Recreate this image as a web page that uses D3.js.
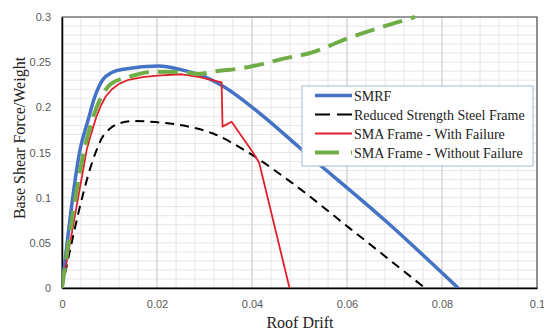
<!DOCTYPE html>
<html>
<head>
<meta charset="utf-8">
<script src="https://cdnjs.cloudflare.com/ajax/libs/d3/7.8.5/d3.min.js"></script>
<style>
body { margin: 0; background: #fff; }
.serif { font-family: 'Liberation Serif', 'DejaVu Serif', serif; }
.tick text { font-family: 'Liberation Sans', Arial, sans-serif; }
</style>
</head>
<body>
<script>
// values: [roof drift, base shear / weight]
const smrf = [[0,0],[0.0038,0.153],[0.0055,0.186],[0.0068,0.21],[0.0085,0.23],[0.0105,0.2385],[0.0133,0.2425],[0.0203,0.2458],[0.0252,0.2415],[0.03,0.234],[0.034,0.223],[0.0424,0.19],[0.0501,0.155],[0.0684,0.073],[0.0834,0]];
const reduced = [[0,0],[0.0073,0.153],[0.0084,0.166],[0.01,0.176],[0.0125,0.183],[0.0154,0.185],[0.02,0.1835],[0.0248,0.1805],[0.0318,0.171],[0.0389,0.151],[0.048,0.118],[0.0606,0.066],[0.0764,0]];
const withFailure = [[0,0],[0.0052,0.153],[0.0062,0.172],[0.0072,0.189],[0.0082,0.202],[0.0092,0.212],[0.0105,0.22],[0.012,0.226],[0.014,0.2305],[0.017,0.2335],[0.02,0.235],[0.0252,0.2366],[0.029,0.2335],[0.0336,0.2275],[0.0338,0.1786],[0.0357,0.184],[0.0402,0.15],[0.0415,0.139],[0.0479,0]];
const withoutFailure = [[0,0],[0.005,0.16],[0.0066,0.19],[0.0083,0.212],[0.0103,0.226],[0.014,0.2335],[0.0196,0.2395],[0.025,0.239],[0.029,0.237],[0.032,0.2396],[0.0375,0.243],[0.0486,0.256],[0.0515,0.259],[0.0602,0.2765],[0.0705,0.294],[0.0743,0.3]];

const xTicks = [0, 0.02, 0.04, 0.06, 0.08, 0.1];
const yTicks = [0, 0.05, 0.1, 0.15, 0.2, 0.25, 0.3];
const seriesNames = ["SMRF", "Reduced Strength Steel Frame", "SMA Frame - With Failure", "SMA Frame - Without Failure"];

const series = [
  {name: seriesNames[0], data: smrf, color: "#4472c4", width: 3.5, dash: null, legendDash: null, curve: d3.curveMonotoneX},
  {name: seriesNames[1], data: reduced, color: "#000", width: 2, dash: "9,6", legendDash: "15,7", curve: d3.curveMonotoneX},
  {name: seriesNames[2], data: withFailure, color: "#e0202a", width: 1.8, dash: null, legendDash: null, curve: d3.curveLinear},
  {name: seriesNames[3], data: withoutFailure, color: "#70ad47", width: 4, dash: "20,9", legendDash: "24,12", curve: d3.curveMonotoneX}
];

const W = 544, H = 332;
const m = {left: 62, right: 7, top: 17, bottom: 44};

const svg = d3.select("body")
        .append("svg")
        .attr("width", W)
        .attr("height", H);

const x = d3.scaleLinear().domain([0, 0.1]).range([m.left, W - m.right]);
const y = d3.scaleLinear().domain([0, 0.3]).range([H - m.bottom, m.top]);

// grid
const minorX = d3.range(0, 0.1001, 0.004);
const minorY = d3.range(0, 0.3001, 0.01);

svg.append("g")
  .selectAll("line")
  .data(minorX)
  .enter()
  .append("line")
  .attr("x1", d => x(d)).attr("x2", d => x(d))
  .attr("y1", y(0)).attr("y2", y(0.3))
  .attr("stroke", "#e6e6e6");

svg.append("g")
  .selectAll("line")
  .data(minorY)
  .enter()
  .append("line")
  .attr("x1", x(0)).attr("x2", x(0.1))
  .attr("y1", d => y(d)).attr("y2", d => y(d))
  .attr("stroke", "#e6e6e6");

svg.append("g")
  .selectAll("line")
  .data(xTicks)
  .enter()
  .append("line")
  .attr("x1", d => x(d)).attr("x2", d => x(d))
  .attr("y1", y(0)).attr("y2", y(0.3))
  .attr("stroke", "#cfcfcf");

// frame
svg.append("rect")
  .attr("x", x(0)).attr("y", y(0.3))
  .attr("width", x(0.1) - x(0)).attr("height", y(0) - y(0.3))
  .attr("fill", "none")
  .attr("stroke", "#404040");

// axes
const fmt = d => String(+d.toFixed(2));
const xAxis = svg.append("g")
  .attr("transform", "translate(0," + y(0) + ")")
  .call(d3.axisBottom(x).tickValues(xTicks).tickSize(0).tickPadding(12).tickFormat(fmt));
const yAxis = svg.append("g")
  .attr("transform", "translate(" + x(0) + ",0)")
  .call(d3.axisLeft(y).tickValues(yTicks).tickSize(0).tickPadding(11).tickFormat(fmt));

[xAxis, yAxis].forEach(a => {
  a.attr("font-family", null);
  a.select(".domain").attr("stroke", "#000").attr("stroke-width", 1.5);
  a.selectAll("text")
    .attr("font-size", 11)
    .attr("fill", "#595959");
});

// curves
svg.append("defs").append("clipPath").attr("id", "clip")
  .append("rect")
  .attr("x", x(0)).attr("y", y(0.3) - 2)
  .attr("width", x(0.1) - x(0)).attr("height", y(0) - y(0.3) + 2);

svg.append("g")
  .attr("clip-path", "url(#clip)")
  .selectAll("path")
  .data(series)
  .enter()
  .append("path")
  .attr("d", d => d3.line().x(p => x(p[0])).y(p => y(p[1])).curve(d.curve)(d.data))
  .attr("fill", "none")
  .attr("stroke", d => d.color)
  .attr("stroke-width", d => d.width)
  .attr("stroke-dasharray", d => d.dash)
  .attr("stroke-linejoin", "round");

// legend
const legend = svg.append("g");
legend.append("rect")
  .attr("x", 302).attr("y", 86)
  .attr("width", 231).attr("height", 80)
  .attr("fill", "#fff")
  .attr("stroke", "#a9bcd0");

const items = legend.selectAll("g.item")
  .data(series)
  .enter()
  .append("g")
  .attr("transform", (d, i) => "translate(0," + (95.5 + i * 19) + ")");

items.append("line")
  .attr("x1", 315).attr("x2", 352)
  .attr("stroke", d => d.color)
  .attr("stroke-width", d => d.width)
  .attr("stroke-dasharray", d => d.legendDash);

items.append("text")
  .attr("class", "serif")
  .attr("x", 354)
  .attr("y", 5)
  .attr("font-size", 14)
  .attr("fill", "#222")
  .text(d => d.name);

// axis titles
svg.append("text")
  .attr("class", "serif")
  .attr("x", 300)
  .attr("y", 328)
  .attr("text-anchor", "middle")
  .attr("font-size", 16)
  .attr("fill", "#222")
  .text("Roof Drift");

svg.append("text")
  .attr("class", "serif")
  .attr("transform", "translate(25,138) rotate(-90)")
  .attr("text-anchor", "middle")
  .attr("font-size", 16)
  .attr("fill", "#222")
  .text("Base Shear Force/Weight");
</script>
</body>
</html>
